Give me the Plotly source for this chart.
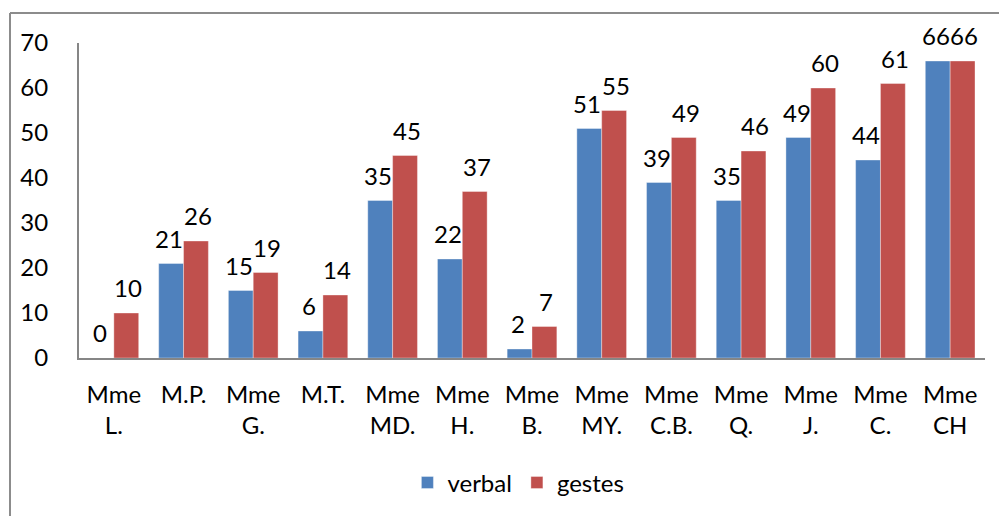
import plotly.graph_objects as go

categories = ["Mme<br>L.", "M.P.", "Mme<br>G.", "M.T.", "Mme<br>MD.", "Mme<br>H.", "Mme<br>B.",
              "Mme<br>MY.", "Mme<br>C.B.", "Mme<br>Q.", "Mme<br>J.", "Mme<br>C.", "Mme<br>CH"]
verbal = [0, 21, 15, 6, 35, 22, 2, 51, 39, 35, 49, 44, 66]
gestes = [10, 26, 19, 14, 45, 37, 7, 55, 49, 46, 60, 61, 66]
y_ticks = [0, 10, 20, 30, 40, 50, 60, 70]

W, H = 999, 516
ML, MR, MT, MB = 79, 14, 43, 157
plot_w = W - ML - MR
cat_w = plot_w / len(categories)
bargap = 0.287
bar_w = (1 - bargap) / 2 * cat_w
label_dx = bar_w / 2 + 1.8

FONT = "Lato"
FS = 24
BLUE = "#4F81BD"
RED = "#C0504D"
AXIS = "#868686"

fig = go.Figure()
fig.add_bar(name="verbal", x=categories, y=verbal, marker=dict(color=BLUE, line=dict(color="rgba(255,255,255,0.6)", width=0.6)))
fig.add_bar(name="gestes", x=categories, y=gestes, marker=dict(color=RED, line=dict(color="rgba(255,255,255,0.6)", width=0.6)))

annotations = []
for c, v in zip(categories, verbal):
    annotations.append(dict(x=c, y=v, xref="x", yref="y", text=str(v), showarrow=False,
                            xanchor="center", yanchor="bottom", xshift=-label_dx, yshift=9,
                            font=dict(family=FONT, size=FS, color="black")))
for c, v in zip(categories, gestes):
    annotations.append(dict(x=c, y=v, xref="x", yref="y", text=str(v), showarrow=False,
                            xanchor="center", yanchor="bottom", xshift=label_dx, yshift=9,
                            font=dict(family=FONT, size=FS, color="black")))

plot_h = H - MT - MB
# outer chart frame (partially cropped in the reference)
x0 = (10 - ML) / plot_w
y1 = (H - MB - 13) / plot_h
shapes = [
    dict(type="line", xref="paper", yref="paper", x0=x0, x1=x0, y0=-2, y1=y1,
         line=dict(color="#8C8C8C", width=2)),
    dict(type="line", xref="paper", yref="paper", x0=x0, x1=2, y0=y1, y1=y1,
         line=dict(color="#8C8C8C", width=2)),
]

fig.update_layout(
    width=W, height=H,
    margin=dict(l=ML, r=MR, t=MT, b=MB),
    paper_bgcolor="white", plot_bgcolor="white",
    barmode="group", bargap=bargap, bargroupgap=0,
    font=dict(family=FONT, size=FS, color="black"),
    annotations=annotations,
    shapes=shapes,
    showlegend=True,
    legend=dict(orientation="h", x=0.485, xanchor="center", y=-0.392, yanchor="middle",
                font=dict(family=FONT, size=FS), itemwidth=30, traceorder="normal"),
    xaxis=dict(showline=True, linecolor=AXIS, linewidth=2, ticks="", showgrid=False,
               tickfont=dict(family=FONT, size=FS), ticklabelstandoff=14, fixedrange=True),
    yaxis=dict(range=[0, 70], tickvals=y_ticks, showline=True, linecolor=AXIS, linewidth=2,
               ticks="", showgrid=False, zeroline=False, fixedrange=True,
               tickfont=dict(family=FONT, size=FS), ticklabelstandoff=24),
)
fig.update_traces(cliponaxis=False)

fig.write_html("out.html", config={"displayModeBar": False},
               post_script="document.body.style.margin='0';document.body.style.overflow='hidden';")
